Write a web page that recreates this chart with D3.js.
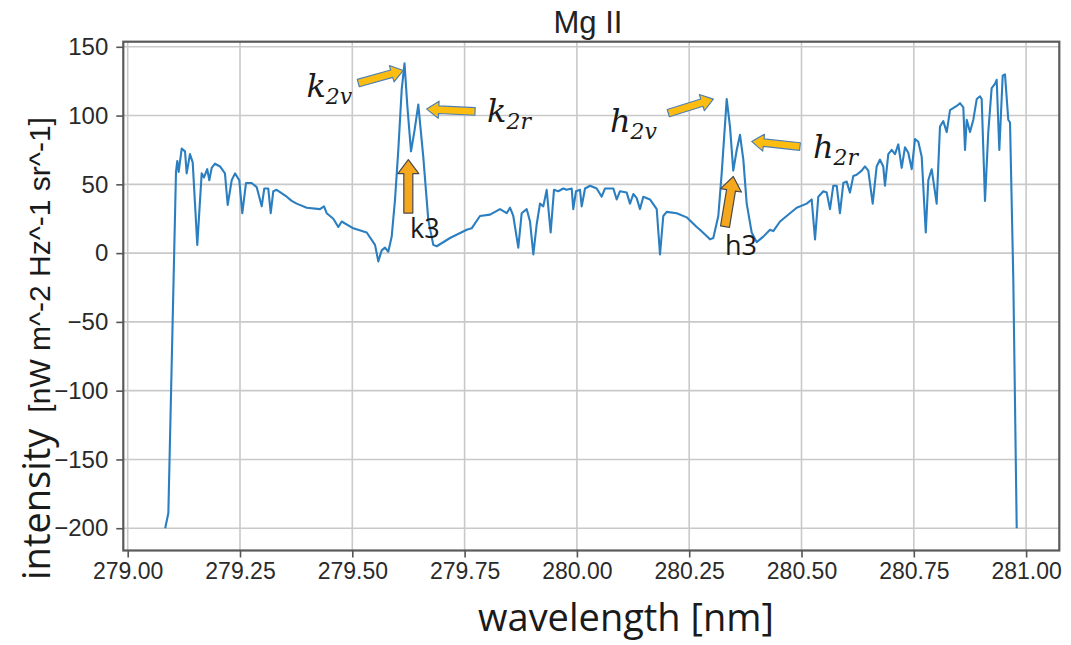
<!DOCTYPE html>
<html>
<head>
<meta charset="utf-8">
<script src="https://cdn.jsdelivr.net/npm/d3@7"></script>
<style>
body { margin: 0; background: #fff; }
</style>
</head>
<body>
<div id="canvas"></div>
<script>
const gw = 1071
const gh = 645

// Mg II spectrum
const wavelength = [
	279.0835, 279.0905, 279.1075, 279.1104, 279.1135, 279.1202, 279.1276, 279.1313, 279.1386, 279.1447,
	279.1549, 279.1647, 279.1698, 279.1771, 279.1817, 279.1870, 279.1943, 279.2055, 279.2165, 279.2226,
	279.2315, 279.2389, 279.2484, 279.2551, 279.2634, 279.2760, 279.2871, 279.2983, 279.3041, 279.3129,
	279.3184, 279.3241, 279.3316, 279.3540, 279.3651, 279.3762, 279.3985, 279.4281, 279.4370, 279.4430,
	279.4577, 279.4688, 279.4764, 279.5023, 279.5321, 279.5506, 279.5579, 279.5654, 279.5728, 279.5801,
	279.5877, 279.5951, 279.6024, 279.6100, 279.6162, 279.6225, 279.6307, 279.6389, 279.6469, 279.6580,
	279.6692, 279.6803, 279.6879, 279.7175, 279.7547, 279.7657, 279.7842, 279.8066, 279.8288, 279.8437,
	279.8511, 279.8584, 279.8695, 279.8771, 279.8882, 279.8956, 279.9030, 279.9105, 279.9178, 279.9252,
	279.9327, 279.9416, 279.9490, 279.9585, 279.9697, 279.9772, 279.9884, 279.9919, 279.9980, 280.0069,
	280.0107, 280.0181, 280.0292, 280.0441, 280.0552, 280.0626, 280.0811, 280.0886, 280.0960, 280.1108,
	280.1182, 280.1256, 280.1331, 280.1405, 280.1478, 280.1627, 280.1777, 280.1850, 280.1923, 280.1999,
	280.2222, 280.2444, 280.2667, 280.2740, 280.2963, 280.3036, 280.3148, 280.3223, 280.3335, 280.3408,
	280.3481, 280.3558, 280.3631, 280.3705, 280.3780, 280.3891, 280.4002, 280.4150, 280.4299, 280.4372,
	280.4522, 280.4744, 280.4893, 280.5116, 280.5227, 280.5301, 280.5374, 280.5486, 280.5561, 280.5634,
	280.5708, 280.5783, 280.5856, 280.5931, 280.6006, 280.6079, 280.6153, 280.6228, 280.6340, 280.6413,
	280.6487, 280.6585, 280.6673, 280.6747, 280.6820, 280.6858, 280.6932, 280.7008, 280.7081, 280.7155,
	280.7230, 280.7304, 280.7377, 280.7454, 280.7527, 280.7600, 280.7676, 280.7766, 280.7823, 280.7898,
	280.8009, 280.8083, 280.8156, 280.8233, 280.8306, 280.8455, 280.8528, 280.8602, 280.8640, 280.8678,
	280.8751, 280.8825, 280.8901, 280.8974, 280.9011, 280.9085, 280.9158, 280.9233, 280.9307, 280.9345,
	280.9404, 280.9479, 280.9530, 280.9603, 280.9642, 280.9715, 280.9791
]
const intensity = [
	-200, -189, 59, 67, 59, 76, 74, 58, 72, 66,
	6, 58, 55, 61, 53, 62, 65, 63, 58, 35,
	53, 58, 53, 29, 51, 51, 48, 34, 47, 47,
	29, 45, 46, 41, 38, 36, 33, 32, 34, 29,
	25, 19, 23, 18, 15, 6, -6, 2, 4, 1,
	12, 39, 75, 119, 138, 107, 74, 90, 108, 70,
	24, 6, 5, 11, 17, 18, 27, 28, 32, 29,
	33, 27, 4, 29, 32, 23, -1, 21, 36, 34,
	46, 15, 46, 45, 47, 46, 47, 32, 45, 46,
	34, 47, 49, 47, 41, 47, 47, 39, 45, 44,
	36, 43, 40, 32, 41, 39, 32, -1, 27, 30,
	29, 26, 19, 17, 10, 11, 27, 58, 112, 92,
	60, 75, 86, 68, 36, 15, 8, 12, 17, 16,
	23, 29, 33, 36, 39, 10, 41, 45, 44, 32,
	49, 49, 29, 51, 52, 44, 56, 57, 60, 63,
	60, 36, 63, 68, 63, 49, 72, 75, 72, 79,
	62, 77, 73, 61, 83, 81, 70, 15, 53, 61,
	36, 92, 96, 88, 104, 107, 109, 106, 75, 97,
	88, 97, 112, 114, 112, 38, 88, 120, 123, 126,
	75, 129, 130, 97, 95, -19, -200
]

const xTicks = [279.00, 279.25, 279.50, 279.75, 280.00, 280.25, 280.50, 280.75, 281.00]
const yTicks = [-200, -150, -100, -50, 0, 50, 100, 150]

// arrows: tail -> head, in data units
const arrowTail = [[279.5134, 123.6], [279.7732, 103.0], [279.6247, 29.1], [280.2035, 101.8], [280.4966, 77.5], [280.3297, 19.3]]
const arrowHead = [[279.6135, 132.8], [279.6656, 104.7], [279.6247, 67.9], [280.3037, 112.0], [280.3891, 81.2], [280.3482, 55.7]]
const arrowKind = ['side', 'side', 'up', 'side', 'side', 'up']

// line labels
const mathBase = ['k', 'k', 'h', 'h']
const mathSub = ['2v', '2r', '2v', '2r']
const mathPos = [[279.5000, 113.7], [279.7999, 95.5], [280.1783, 88.2], [280.5256, 69.3]]
const mathAnchor = ['end', 'start', 'end', 'start']
const plainText = ['k3', 'h3']
const plainPos = [[279.6285, 11.1], [280.3297, -1.2]]

const margin = {'top': 41.7, 'right': gw - 1059.3, 'bottom': gh - 550.5, 'left': 123.3}
const graphWidth = gw - margin.left - margin.right
const graphHeight = gh - margin.top - margin.bottom

const svg = d3.select('#canvas')
	.append('svg')
	.attr('width', gw)
	.attr('height', gh)
	.style('font-family', '"Liberation Sans", Arial, sans-serif');

const graph = svg.append('g')
	.attr('transform', `translate(${margin.left}, ${margin.top})`);

const x = d3.scaleLinear()
	.domain([278.9902, 281.0739])
	.range([0, graphWidth]);

const y = d3.scaleLinear()
	.domain([-216.2, 153.7])
	.range([graphHeight, 0]);

// grid
graph.append('g')
	.selectAll('line')
	.data(xTicks)
	.enter().append('line')
		.attr('x1', d => x(d)).attr('x2', d => x(d))
		.attr('y1', 0).attr('y2', graphHeight)
		.attr('stroke', '#c9c9c9')
		.attr('stroke-width', 1.6);

graph.append('g')
	.selectAll('line')
	.data(yTicks)
	.enter().append('line')
		.attr('x1', 0).attr('x2', graphWidth)
		.attr('y1', d => y(d)).attr('y2', d => y(d))
		.attr('stroke', '#c9c9c9')
		.attr('stroke-width', 1.6);

// spectrum
const line = d3.line()
	.x(i => x(wavelength[i]))
	.y(i => y(intensity[i]));

graph.append('path')
	.datum(d3.range(wavelength.length))
	.attr('d', line)
	.attr('fill', 'none')
	.attr('stroke', '#2b7fc0')
	.attr('stroke-width', 2.1)
	.attr('stroke-linejoin', 'round');

// frame
graph.append('rect')
	.attr('width', graphWidth)
	.attr('height', graphHeight)
	.attr('fill', 'none')
	.attr('stroke', '#5a5a5a')
	.attr('stroke-width', 2.2);

// axes
const xAxis = d3.axisBottom(x)
	.tickValues(xTicks)
	.tickFormat(d3.format('.2f'))
	.tickSize(7)
	.tickPadding(5);
const yAxis = d3.axisLeft(y)
	.tickValues(yTicks)
	.tickFormat(d => d < 0 ? '\u2212' + Math.abs(d) : d)
	.tickSize(7)
	.tickPadding(8);

const xAxisGroup = graph.append('g')
	.attr('transform', `translate(0, ${graphHeight})`)
	.call(xAxis);
const yAxisGroup = graph.append('g')
	.call(yAxis);

[xAxisGroup, yAxisGroup].forEach(g => {
	g.select('.domain').remove();
	g.selectAll('line').attr('stroke', '#555').attr('stroke-width', 1.6);
	g.selectAll('text')
		.attr('fill', '#2a2a2a')
		.style('font-family', '"Liberation Sans", Arial, sans-serif');
});
xAxisGroup.selectAll('text').style('font-size', '23px');
yAxisGroup.selectAll('text').style('font-size', '24px');

// arrows
function arrowPath(t, h, kind) {
	const x0 = x(t[0]), y0 = y(t[1]), x1 = x(h[0]), y1 = y(h[1]);
	const len = Math.hypot(x1 - x0, y1 - y0);
	const ux = (x1 - x0) / len, uy = (y1 - y0) / len;
	const nx = -uy, ny = ux;
	const sw = kind == 'up' ? 4.5 : 3.8;
	const hw = kind == 'up' ? 10.5 : 8.5;
	const hl = kind == 'up' ? 14 : 12;
	const bx = x1 - ux * hl, by = y1 - uy * hl;
	const pts = [
		[x0 + nx * sw, y0 + ny * sw],
		[bx + nx * sw, by + ny * sw],
		[bx + nx * hw, by + ny * hw],
		[x1, y1],
		[bx - nx * hw, by - ny * hw],
		[bx - nx * sw, by - ny * sw],
		[x0 - nx * sw, y0 - ny * sw]
	];
	return 'M' + pts.map(p => p.join(',')).join('L') + 'Z';
}

graph.append('g')
	.selectAll('path')
	.data(d3.range(arrowTail.length))
	.enter().append('path')
		.attr('d', i => arrowPath(arrowTail[i], arrowHead[i], arrowKind[i]))
		.attr('fill', i => arrowKind[i] == 'up' ? '#f5a81e' : '#fdbd10')
		.attr('stroke', i => arrowKind[i] == 'up' ? '#4a4a4a' : '#4f7fb0')
		.attr('stroke-width', 1.2)
		.attr('stroke-linejoin', 'round');

// labels
const mathText = graph.append('g')
	.selectAll('text')
	.data(d3.range(mathBase.length))
	.enter().append('text')
		.attr('x', i => x(mathPos[i][0]))
		.attr('y', i => y(mathPos[i][1]))
		.attr('text-anchor', i => mathAnchor[i])
		.attr('fill', '#1a1a1a')
		.style('font-family', '"DejaVu Serif", "Liberation Serif", serif')
		.style('font-style', 'italic')
		.style('font-size', '32px');
mathText.append('tspan').text(i => mathBase[i]);
mathText.append('tspan')
	.attr('dy', 7)
	.style('font-size', '22px')
	.text(i => mathSub[i]);

graph.append('g')
	.selectAll('text')
	.data(d3.range(plainText.length))
	.enter().append('text')
		.attr('x', i => x(plainPos[i][0]))
		.attr('y', i => y(plainPos[i][1]))
		.attr('fill', '#1a1a1a')
		.style('font-family', '"Open Sans", sans-serif')
		.style('font-size', '27px')
		.text(i => plainText[i]);

// titles
svg.append('text')
	.attr('x', 588)
	.attr('y', 33)
	.attr('text-anchor', 'middle')
	.attr('fill', '#222')
	.style('font-size', '31px')
	.text('Mg II');

svg.append('text')
	.attr('x', 626)
	.attr('y', 631)
	.attr('text-anchor', 'middle')
	.attr('fill', '#1a1a1a')
	.style('font-family', '"Open Sans", sans-serif')
	.style('font-size', '38px')
	.text('wavelength [nm]');

const yLabel = svg.append('text')
	.attr('transform', 'translate(50, 580) rotate(-90)')
	.attr('fill', '#1a1a1a');
yLabel.append('tspan')
	.style('font-family', '"Open Sans", sans-serif')
	.style('font-size', '38px')
	.text('intensity');
yLabel.append('tspan')
	.attr('dx', 16)
	.style('font-size', '30px')
	.text('[nW m^-2 Hz^-1 sr^-1]');
</script>
</body>
</html>
